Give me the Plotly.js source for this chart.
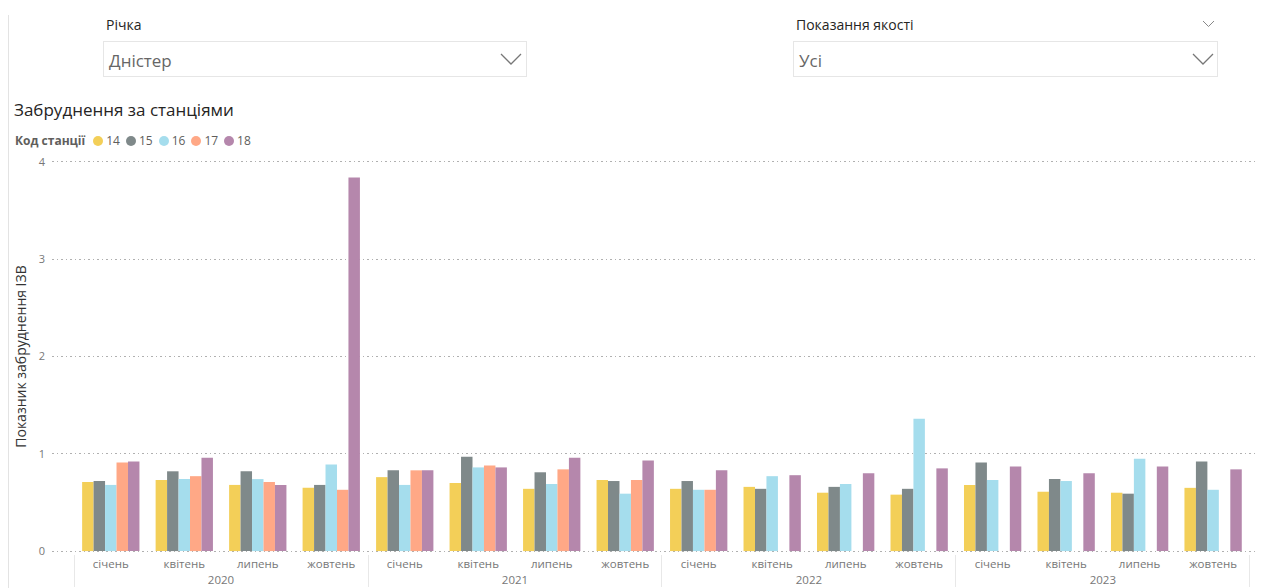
<!DOCTYPE html>
<html>
<head>
<meta charset="utf-8">
<script src="https://cdn.plot.ly/plotly-3.0.1.min.js"></script>
<style>
  html, body { margin:0; padding:0; background:#fff; width:1266px; height:588px; overflow:hidden; font-family:"Open Sans", "Noto Sans", sans-serif; }
  #chart { position:absolute; left:0; top:0; width:1266px; height:588px; }
  .ov { position:absolute; color:#252423; white-space:nowrap; }
  .box { position:absolute; border:1px solid #E6E6E6; box-sizing:border-box; background:#fff; }
  .leftline { position:absolute; left:8px; top:15px; width:1px; height:573px; background:#E3E3E3; }
  .lg { position:absolute; top:132px; left:15px; font-size:12px; color:#605E5C; display:flex; align-items:center; }
  .lg b { color:#605E5C; margin-right:8px; }
  .lg .it { display:flex; align-items:center; margin-right:6px; }
  .lg .dot { width:10px; height:10px; border-radius:50%; display:inline-block; margin-right:3px; }
</style>
</head>
<body>
<div id="chart"></div>
<div class="leftline"></div>

<div class="ov" style="left:106px; top:15px; font-size:14px;">Річка</div>
<div class="box" style="left:103px; top:41px; width:424px; height:36px;"></div>
<div class="ov" style="left:109px; top:49px; font-size:17px; color:#666;">Дністер</div>
<svg style="position:absolute; left:500px; top:52px;" width="24" height="16"><polyline points="1,2 11,12 21,2" fill="none" stroke="#777" stroke-width="1.3"/></svg>

<div class="ov" style="left:796px; top:15px; font-size:14px;">Показання якості</div>
<svg style="position:absolute; left:1202px; top:20px;" width="14" height="9"><polyline points="1,1 6.5,6.5 12,1" fill="none" stroke="#888" stroke-width="1"/></svg>
<div class="box" style="left:793px; top:41px; width:425px; height:36px;"></div>
<div class="ov" style="left:799px; top:49px; font-size:17px; color:#666;">Усі</div>
<svg style="position:absolute; left:1192px; top:52px;" width="24" height="16"><polyline points="1,2 11,12 21,2" fill="none" stroke="#777" stroke-width="1.3"/></svg>

<div class="ov" style="left:14px; top:98px; font-size:17px;">Забруднення за станціями</div>
<div class="lg" id="legend"><b>Код станції</b></div>

<script>
// ---- data ----
const years = ['2020', '2021', '2022', '2023'];
const months = ['січень', 'квітень', 'липень', 'жовтень'];
const stations = ['14', '15', '16', '17', '18'];
const colors = ['#F3CF58', '#7F898A', '#A5DDED', '#FFA886', '#B587AC'];

const st14 = [0.71, 0.73, 0.68, 0.65, 0.76, 0.70, 0.64, 0.73, 0.64, 0.66, 0.60, 0.58, 0.68, 0.61, 0.60, 0.65];
const st15 = [0.72, 0.82, 0.82, 0.68, 0.83, 0.97, 0.81, 0.72, 0.72, 0.64, 0.66, 0.64, 0.91, 0.74, 0.59, 0.92];
const st16 = [0.68, 0.74, 0.74, 0.89, 0.68, 0.86, 0.69, 0.59, 0.63, 0.77, 0.69, 1.36, 0.73, 0.72, 0.95, 0.63];
const st17 = [0.91, 0.77, 0.71, 0.63, 0.83, 0.88, 0.84, 0.73, 0.63, null, null, null, null, null, null, null];
const st18 = [0.92, 0.96, 0.68, 3.84, 0.83, 0.86, 0.96, 0.93, 0.83, 0.78, 0.80, 0.85, 0.87, 0.80, 0.87, 0.84];

const yTitle = 'Показник забруднення ІЗВ';

// ---- build ----
const series = [st14, st15, st16, st17, st18];
const xYear = [], xMonth = [];
years.forEach(y => months.forEach(m => { xYear.push(y); xMonth.push(m); }));

const traces = stations.map((s, i) => ({
  type: 'bar',
  name: s,
  x: [xYear, xMonth],
  y: series[i],
  marker: { color: colors[i], line: { width: 0 } },
  hoverinfo: 'skip'
}));

// legend (HTML) from stations/colors
const lg = document.getElementById('legend');
stations.forEach((s, i) => {
  const it = document.createElement('span');
  it.className = 'it';
  it.innerHTML = '<span class="dot" style="background:' + colors[i] + '"></span>' + s;
  lg.appendChild(it);
});

const layout = {
  width: 1266, height: 588,
  margin: { l: 52, r: 11, t: 159, b: 34 },
  paper_bgcolor: 'rgba(0,0,0,0)',
  plot_bgcolor: 'rgba(0,0,0,0)',
  showlegend: false,
  barmode: 'group',
  bargap: 0.22,
  bargroupgap: 0,
  font: { family: '"Open Sans", "Noto Sans", sans-serif', color: '#777' },
  xaxis: {
    type: 'multicategory',
    range: [-0.8, 15.57],
    tickfont: { size: 11.5, color: '#777' },
    ticklabelstandoff: 1,
    showdividers: true,
    dividercolor: '#E8E8E8',
    dividerwidth: 1,
    showgrid: false,
    showline: false,
    ticks: '',
    automargin: false
  },
  yaxis: {
    range: [-0.03, 4.03],
    tickvals: [0, 1, 2, 3, 4],
    tickfont: { size: 11, color: '#777' },
    ticklabelstandoff: 6,
    showgrid: true,
    gridcolor: '#B0B0B0',
    griddash: '1.5px,3px',
    gridwidth: 1,
    zeroline: false,
    showline: false,
    ticks: '',
    automargin: false,
    title: { text: yTitle, font: { size: 14, color: '#333' }, standoff: 8 }
  }
};

Plotly.newPlot('chart', traces, layout, { displayModeBar: false, staticPlot: true });
</script>
</body>
</html>
